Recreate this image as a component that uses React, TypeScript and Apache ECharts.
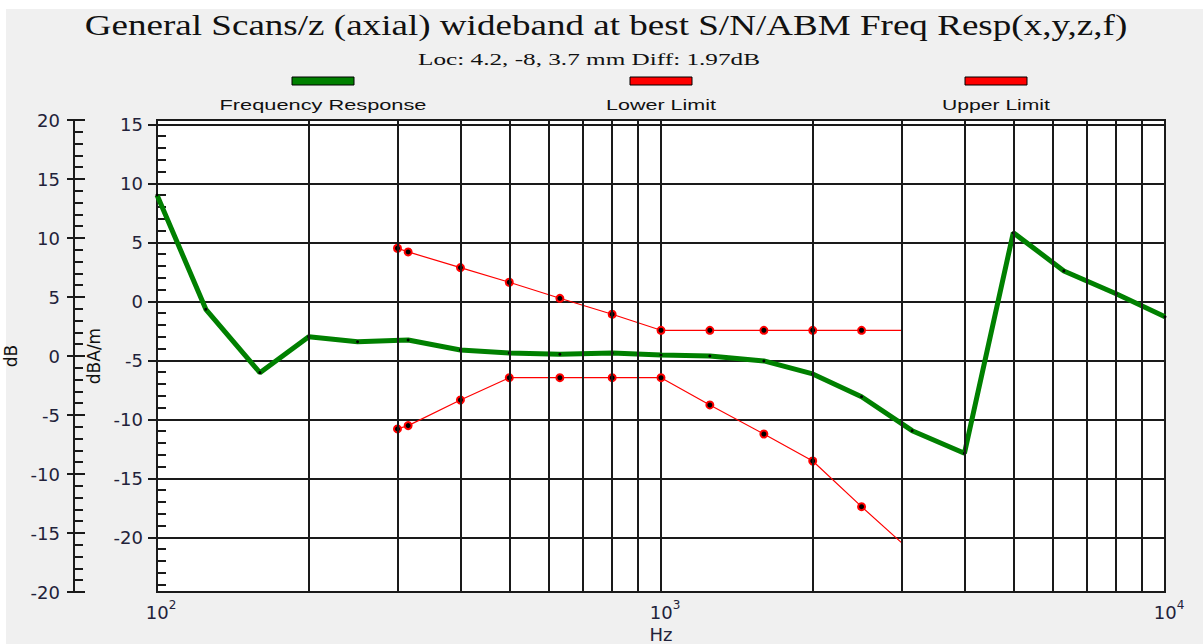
import React, { useEffect, useRef } from "react";
import * as echarts from "echarts";

// Frequency response (1/3-octave bands), dBA/m
const freqResponseHz = [100, 125, 160, 200, 250, 315, 400, 500, 630, 800, 1000, 1250, 1600, 2000, 2500, 3150, 4000, 5000, 6300, 8000, 10000];
const freqResponseDb = [9.02, -0.67, -6.04, -2.99, -3.42, -3.27, -4.12, -4.37, -4.48, -4.37, -4.54, -4.63, -5.05, -6.15, -8.08, -10.96, -12.87, 5.82, 2.58, 0.65, -1.3];

// Limit masks
const limitHz = [300, 315, 400, 500, 630, 800, 1000, 1250, 1600, 2000, 2500, 3000];
const upperLimitDb = [4.5, 4.19, 2.86, 1.62, 0.26, -1.09, -2.45, -2.45, -2.45, -2.45, -2.45, -2.45];
const lowerLimitDb = [-10.81, -10.53, -8.36, -6.47, -6.47, -6.47, -6.47, -8.78, -11.24, -13.53, -17.4, -20.45];

// Minor log grid lines (Hz)
const minorGridHz = [200, 300, 400, 500, 600, 700, 800, 900, 2000, 3000, 4000, 5000, 6000, 7000, 8000, 9000];

// Axis ranges
const dbaMin = -24.63;
const dbaMax = 15.37;
const dbMin = -20;
const dbMax = 20;

const TITLE = "General Scans/z (axial) wideband at best S/N/ABM Freq Resp(x,y,z,f)";
const SUBTITLE = "Loc: 4.2, -8, 3.7 mm Diff: 1.97dB";
const LEGEND = ["Frequency Response", "Lower Limit", "Upper Limit"];

export default function App() {
  const ref = useRef<HTMLDivElement>(null);

  useEffect(() => {
    document.body.style.margin = "0";
    const el = ref.current!;
    const chart = echarts.init(el, null, { renderer: "svg" });

    const ctx = document.createElement("canvas").getContext("2d")!;
    const fit = (text: string, size: number, family: string, target: number) => {
      ctx.font = `${size}px '${family}'`;
      const w = ctx.measureText(text).width;
      return w > 0 ? target / w : 1;
    };
    const textEl = (text: string, x: number, y: number, size: number, family: string, target: number) => ({
      type: "text",
      x,
      y,
      scaleX: fit(text, size, family, target),
      silent: true,
      style: {
        text,
        fontSize: size,
        fontFamily: family,
        fill: "#111",
        textAlign: "center",
        textVerticalAlign: "middle",
      },
    });

    const lineCol = "#1a1a1a";
    const axisLine = { show: true, lineStyle: { color: lineCol, width: 2 } };
    const tickStyle = { color: lineCol, width: 2 };
    const labelFont = { fontFamily: "DejaVu Sans", fontSize: 18, color: "#22223a" };

    const limitData = (vals: number[]) =>
      limitHz.map((f, i) =>
        i === limitHz.length - 1 ? { value: [f, vals[i]], symbol: "none" } : { value: [f, vals[i]] }
      );

    const legendCenters = [323, 661, 996];
    const legendWidths = [207, 110, 108];
    const legendColors = ["#008000", "#ff0000", "#ff0000"];

    const option: any = {
      animation: false,
      backgroundColor: "#f0f0f0",
      grid: {
        left: 157,
        top: 120,
        width: 1008,
        height: 472,
        show: true,
        backgroundColor: "#ffffff",
        borderColor: lineCol,
        borderWidth: 2,
        containLabel: false,
        outerBoundsMode: "none",
      },
      xAxis: {
        type: "log",
        logBase: 10,
        min: 100,
        max: 10000,
        axisLine,
        axisTick: { show: true, inside: false, length: 11, lineStyle: tickStyle },
        splitLine: { show: true, lineStyle: { color: lineCol, width: 2 } },
        axisLabel: {
          margin: 7,
          formatter: (v: number) => `{p|}{b|10}{s|${Math.round(Math.log10(v))}}`,
          rich: {
            p: { width: 8 },
            b: { ...labelFont, verticalAlign: "bottom", lineHeight: 22 },
            s: { fontFamily: "DejaVu Sans", fontSize: 12, color: "#22223a", verticalAlign: "top", lineHeight: 22 },
          },
        },
        name: "Hz",
        nameLocation: "middle",
        nameGap: 29,
        nameTextStyle: { ...labelFont },
      },
      yAxis: [
        {
          type: "value",
          position: "left",
          offset: 0,
          min: dbaMin,
          max: dbaMax,
          splitNumber: 8,
          axisLine,
          axisTick: { show: true, inside: false, length: 9, lineStyle: tickStyle },
          axisLabel: { ...labelFont, margin: 14, showMinLabel: false, showMaxLabel: false },
          splitLine: { show: true, lineStyle: { color: lineCol, width: 2 } },
          name: "dBA/m",
          nameLocation: "middle",
          nameGap: 55,
          nameRotate: 90,
          nameTextStyle: { fontFamily: "DejaVu Sans", fontSize: 17, color: "#111" },
        },
        {
          type: "value",
          position: "left",
          offset: 0,
          min: dbaMin,
          max: dbaMax,
          splitNumber: 40,
          axisLine: { show: false },
          axisTick: { show: true, inside: true, length: 9, lineStyle: tickStyle },
          axisLabel: { show: false },
          splitLine: { show: false },
        },
        {
          type: "value",
          position: "left",
          offset: 0,
          min: dbaMin,
          max: dbaMax,
          splitNumber: 8,
          axisLine: { show: false },
          axisTick: { show: true, inside: true, length: 13, lineStyle: tickStyle },
          axisLabel: { show: false },
          splitLine: { show: false },
        },
        {
          type: "value",
          position: "left",
          offset: 83,
          min: dbMin,
          max: dbMax,
          interval: 5,
          axisLine,
          axisTick: { show: true, inside: false, length: 7, lineStyle: tickStyle },
          axisLabel: { ...labelFont, margin: 14 },
          splitLine: { show: false },
          name: "dB",
          nameLocation: "middle",
          nameGap: 44,
          nameRotate: 90,
          nameTextStyle: { fontFamily: "DejaVu Sans", fontSize: 17, color: "#111" },
        },
        {
          type: "value",
          position: "left",
          offset: 83,
          min: dbMin,
          max: dbMax,
          interval: 1,
          axisLine: { show: false },
          axisTick: { show: true, inside: true, length: 9, lineStyle: tickStyle },
          axisLabel: { show: false },
          splitLine: { show: false },
        },
        {
          type: "value",
          position: "left",
          offset: 83,
          min: dbMin,
          max: dbMax,
          interval: 5,
          axisLine: { show: false },
          axisTick: { show: true, inside: true, length: 11, lineStyle: tickStyle },
          axisLabel: { show: false },
          splitLine: { show: false },
        },
      ],
      series: [
        {
          type: "line",
          name: "grid",
          data: [],
          silent: true,
          z: 1,
          markLine: {
            silent: true,
            symbol: ["none", "none"],
            label: { show: false },
            lineStyle: { color: lineCol, width: 2, type: "solid" },
            data: minorGridHz.map((f) => ({ xAxis: f })),
          },
        },
        {
          type: "line",
          name: LEGEND[1],
          data: limitData(lowerLimitDb),
          symbol: "circle",
          symbolSize: 7,
          itemStyle: { color: "#000", borderColor: "#ff0000", borderWidth: 2 },
          lineStyle: { color: "#ff0000", width: 1.2 },
          z: 3,
        },
        {
          type: "line",
          name: LEGEND[2],
          data: limitData(upperLimitDb),
          symbol: "circle",
          symbolSize: 7,
          itemStyle: { color: "#000", borderColor: "#ff0000", borderWidth: 2 },
          lineStyle: { color: "#ff0000", width: 1.2 },
          z: 3,
        },
        {
          type: "line",
          name: LEGEND[0],
          data: freqResponseHz.map((f, i) => [f, freqResponseDb[i]]),
          symbol: "circle",
          symbolSize: 3,
          itemStyle: { color: "#000" },
          lineStyle: { color: "#008000", width: 5 },
          z: 4,
        },
      ],
      graphic: [
        { type: "rect", silent: true, shape: { x: 0, y: 0, width: 1203, height: 9 }, style: { fill: "#ffffff" } },
        { type: "rect", silent: true, shape: { x: 0, y: 0, width: 6, height: 644 }, style: { fill: "#ffffff" } },
        textEl(TITLE, 606, 25, 30, "Liberation Serif", 1043),
        textEl(SUBTITLE, 589, 59, 17, "Liberation Serif", 342),
        ...LEGEND.map((t, i) => ({
          type: "rect",
          silent: true,
          shape: { x: legendCenters[i] - 31, y: 77, width: 62, height: 8 },
          style: { fill: legendColors[i], stroke: "#000", lineWidth: 1 },
        })),
        ...LEGEND.map((t, i) => textEl(t, legendCenters[i], 104.5, 15, "Liberation Sans", legendWidths[i])),
      ],
    };

    chart.setOption(option);
    return () => chart.dispose();
  }, []);

  return <div ref={ref} style={{ width: 1203, height: 644 }} />;
}
